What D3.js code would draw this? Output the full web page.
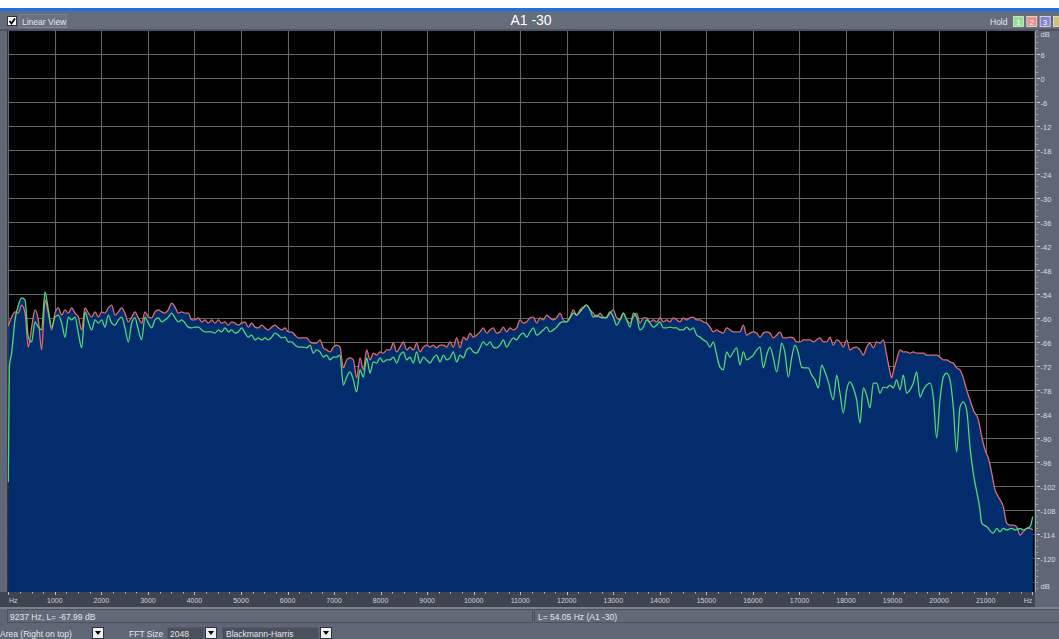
<!DOCTYPE html>
<html>
<head>
<meta charset="utf-8">
<script src="https://cdn.jsdelivr.net/npm/d3@7"></script>
<style>
  html, body { margin: 0; padding: 0; background: #5f6675; overflow: hidden; }
  svg { display: block; font-family: "Liberation Sans", Arial, sans-serif; }
</style>
</head>
<body>
<svg id="chart" width="1059" height="639"></svg>
<script>
// ---- spectrum data (frequency in Hz, level in dB) ----
// shared analysis frequencies for the lower part of the band
const sweepHz = [22,72,144,216,287,359,430,502,574,645,717,789,860,932,1003,1075,1147,1218,1290,1361,1433,1505,1576,1648,1720,1791,1863,1935,2006,2078,2149,2221,2293,2364,2436,2507,2579,2651,2722,2794,2866,2937,3009,3080,3152,3224,3295,3367,3438,3510,3582,3653,3725,3797,3868,3940,4011,4083,4155,4226,4298,4370,4441,4513,4584,4656,4728,4799,4871,4942,5014,5086,5157,5229,5301,5372,5444,5515,5587,5659,5730,5802,5873,5945,6017,6088,6160,6232,
  6339,6411,6483,6554,6626,6698,6769,6841,6912,6984,7056,7127,7199,7271,7342,7414,7485,7557,7629,7700,7772,7844,7915,7987,8058,8130,8202,8273,8345,8416,8488,8560,8631,8703,8775,8846,8918,8989,9061,9133,9204,9276,9348,9419,9491,9562,9634,9706,9777,9849,9920,9992,10064,10135,10207,10279,10350,10422,10493,10565,10637,10708,10780,10852,10923,10995,11066,11138,11210,11281,11353,11424,11496,11568,11639,11711,11783,11854,11926,11997,12069,12141,12212,12284,12356,12427,12499,12570,12642,12714,12785,12857,12928,13000,13072,13143,13215,13287,13358,13430,13501,13573,13645,13716,13788,13860,13931,14003,14074,14146,14218,14289,14361,14432,14504,14576,14647];

const redSweepDb = [-61.2,-59.7,-58.4,-58.7,-56.7,-58.7,-67.2,-62.2,-57.9,-60.4,
  -67.9,-55.4,-58.7,-62.9,-58.7,-57.4,-59.2,-57.9,-58.7,-57.4,
  -58.7,-59.7,-62.9,-57.4,-58.7,-59.7,-58.4,-59.7,-58.4,-58.7,
  -57.4,-56.7,-59.2,-58.4,-57.4,-58.7,-60.9,-59.7,-58.4,-59.9,
  -61.2,-58.4,-59.7,-59.9,-58.4,-57.9,-58.4,-58.7,-57.9,-56.2,
  -57.2,-58.7,-58.4,-58.7,-58.7,-60.4,-60.4,-59.9,-60.9,-60.4,
  -61.2,-60.4,-61.2,-60.4,-61.2,-60.9,-61.7,-60.9,-61.2,-61.7,
  -61.2,-60.9,-62.2,-61.2,-62.2,-62.4,-61.7,-62.4,-62.9,-62.2,
  -61.7,-62.4,-62.9,-62.4,-63.4,-63.4,-64.2,-64.9,
  -64.9,-64.9,-65.9,-66.2,-66.2,-65.4,-67.4,-67.9,-68.4,-67.2,
  -66.7,-67.2,-72.4,-70.4,-69.9,-70.4,-74.9,-69.9,-72.9,-67.9,
  -70.4,-68.7,-69.2,-68.4,-68.7,-67.9,-67.9,-66.2,-68.4,-67.2,
  -65.9,-67.9,-67.2,-67.9,-66.2,-68.4,-67.2,-66.7,-67.2,-66.7,
  -67.4,-66.7,-66.7,-67.2,-65.9,-67.2,-64.9,-67.4,-64.7,-65.4,
  -63.7,-64.7,-64.2,-63.4,-62.4,-63.7,-62.9,-62.4,-63.7,-63.4,
  -62.2,-63.4,-62.4,-62.9,-62.4,-60.4,-61.2,-60.9,-59.9,-59.7,
  -61.2,-59.9,-60.4,-59.2,-59.9,-60.4,-59.9,-58.7,-60.4,-60.9,
  -59.7,-57.9,-59.2,-57.9,-57.2,-56.7,-57.9,-58.7,-59.7,-58.7,
  -59.7,-59.9,-58.7,-57.9,-59.9,-60.4,-58.7,-60.4,-61.2,-59.7,
  -58.7,-61.2,-59.9,-59.9,-60.9,-60.4,-60.9,-59.9,-60.9,-60.4,
  -60.9,-59.9,-60.4,-60.9,-59.9,-60.4,-59.9];

const greenSweepDb = [-72.2,-68.7,-60.4,-56.7,-54.9,-55.4,-64.7,-65.9,-60.9,-62.2,
  -62.9,-53.4,-57.9,-62.2,-59.7,-59.2,-61.2,-64.7,-59.7,-60.4,
  -59.7,-63.7,-67.4,-58.4,-60.9,-62.9,-60.4,-61.2,-60.4,-62.2,
  -59.2,-61.2,-61.7,-60.4,-59.7,-62.4,-65.9,-61.2,-59.9,-62.9,
  -65.4,-59.7,-61.2,-62.4,-60.4,-59.9,-60.9,-60.4,-59.7,-58.7,
  -59.9,-60.9,-60.4,-61.2,-62.2,-62.4,-62.2,-62.2,-62.9,-63.4,
  -63.4,-63.4,-63.7,-62.9,-63.4,-62.4,-63.4,-62.9,-63.7,-63.4,
  -62.4,-63.7,-64.7,-64.2,-65.4,-64.9,-65.4,-64.9,-65.4,-64.7,
  -63.7,-64.2,-64.9,-64.7,-65.9,-65.9,-66.7,-67.2,
  -67.2,-67.4,-66.7,-68.7,-67.9,-68.4,-69.7,-69.2,-70.4,-69.7,
  -69.7,-69.2,-76.7,-74.7,-73.4,-75.4,-78.4,-72.9,-74.7,-69.9,
  -73.7,-70.9,-71.2,-69.9,-70.9,-70.4,-70.4,-69.7,-71.2,-69.2,
  -68.4,-70.4,-69.7,-71.2,-68.4,-71.2,-69.7,-70.4,-71.2,-69.9,
  -69.2,-70.9,-69.2,-70.4,-69.9,-68.4,-70.9,-69.2,-69.9,-67.9,
  -67.4,-68.4,-68.7,-67.4,-65.9,-66.7,-65.9,-67.2,-67.4,-66.7,
  -65.4,-67.2,-65.9,-64.9,-65.4,-64.2,-63.7,-64.7,-63.4,-62.4,
  -64.2,-63.7,-62.9,-62.2,-63.4,-62.9,-62.2,-61.2,-60.9,-60.9,
  -59.9,-58.7,-59.2,-58.4,-57.4,-56.7,-57.9,-59.7,-59.2,-59.7,
  -59.9,-59.7,-58.4,-59.7,-61.7,-60.4,-58.7,-60.4,-62.2,-58.7,
  -59.7,-62.9,-62.2,-60.4,-61.2,-62.2,-61.7,-60.9,-62.4,-62.4,
  -62.2,-62.4,-62.4,-62.9,-62.9,-62.2,-62.9];

// DC bin and upper band, [Hz, dB]
const redEdge = [[0,-62.0],
  [14719,-59.7],[14791,-60.4],[14862,-60.4],[14934,-60.9],[15006,-61.2],[15077,-62.2],[15149,-63.4],[15221,-62.9],[15292,-63.4],[15364,-63.7],
  [15435,-62.4],[15507,-62.9],[15579,-63.4],[15650,-63.4],[15722,-63.4],[15794,-61.7],[15865,-64.2],[15937,-63.7],[16008,-63.4],[16080,-63.7],
  [16152,-64.7],[16223,-63.7],[16295,-63.4],[16366,-63.7],[16438,-64.9],[16510,-64.2],[16581,-63.4],[16653,-64.9],[16725,-64.9],[16796,-64.7],
  [16868,-64.9],[16939,-65.9],[17011,-65.9],[17083,-65.4],[17154,-65.4],[17226,-65.4],[17298,-65.9],[17369,-65.4],[17441,-64.9],[17512,-65.9],
  [17584,-65.9],[17656,-64.7],[17727,-66.7],[17799,-65.4],[17870,-65.9],[17942,-67.2],[18014,-65.4],[18085,-67.9],[18157,-67.4],[18229,-67.2],
  [18300,-67.9],[18372,-69.2],[18443,-67.2],[18515,-66.2],[18587,-67.4],[18658,-65.9],[18730,-66.2],[18801,-65.4],[18873,-69.2],[18945,-73.4],
  [18981,-74.9],[19016,-73.4],[19088,-70.4],[19160,-67.9],[19231,-68.4],[19303,-68.4],[19374,-68.7],[19446,-68.4],[19518,-68.7],[19589,-68.7],
  [19661,-68.7],[19732,-69.2],[19804,-69.2],[19876,-69.2],[19947,-69.2],[20019,-69.7],[20091,-70.4],[20162,-70.4],[20234,-70.9],[20305,-71.2],
  [20377,-72.4],[20449,-72.9],[20520,-74.9],[20592,-77.9],[20664,-80.4],[20735,-82.9],[20843,-85.4],[20916,-89.6],[20987,-92.9],[21058,-95.0],
  [21131,-98.7],[21202,-102.9],[21272,-104.6],[21380,-107.1],[21453,-111.2],[21524,-111.7],[21594,-111.7],[21667,-112.1],[21738,-114.2],[21809,-113.4],
  [21882,-112.5],[21953,-112.5],[22011,-112.9]];

const greenEdge = [[0,-101.0],
  [14719,-62.4],[14791,-64.2],[14862,-64.7],[14934,-65.4],[15006,-65.9],[15077,-67.2],[15149,-65.9],[15221,-69.2],[15292,-72.2],[15364,-72.9],
  [15435,-68.4],[15507,-69.7],[15579,-68.4],[15650,-67.4],[15722,-71.7],[15794,-68.4],[15865,-70.4],[15937,-69.9],[16008,-69.2],[16080,-67.9],
  [16152,-67.2],[16223,-72.4],[16295,-69.2],[16366,-67.2],[16438,-69.9],[16510,-73.4],[16581,-68.7],[16617,-66.2],[16689,-68.7],[16760,-74.7],
  [16832,-69.9],[16904,-66.7],[16975,-68.7],[17047,-72.2],[17118,-72.4],[17190,-72.4],[17262,-74.2],[17333,-75.4],[17405,-77.4],[17477,-71.7],
  [17548,-73.4],[17620,-75.9],[17727,-80.4],[17799,-74.2],[17870,-78.7],[17942,-83.7],[18014,-77.9],[18085,-75.9],[18157,-77.4],[18229,-80.4],
  [18300,-86.2],[18372,-77.4],[18443,-79.2],[18515,-82.4],[18587,-76.2],[18658,-76.2],[18730,-78.7],[18801,-77.2],[18873,-77.4],[18945,-76.7],
  [19016,-77.4],[19088,-75.4],[19160,-77.9],[19231,-74.2],[19303,-78.7],[19374,-77.9],[19446,-76.2],[19518,-73.4],[19589,-79.7],[19661,-77.9],
  [19732,-76.7],[19804,-76.2],[19876,-79.7],[19947,-89.9],[20019,-80.4],[20091,-74.7],[20162,-73.7],[20234,-75.4],[20305,-82.2],[20377,-93.4],
  [20449,-82.2],[20520,-80.9],[20592,-82.9],[20664,-92.2],[20735,-98.7],[20879,-107.9],[20915,-111.2],[21023,-112.1],[21165,-113.7],[21238,-112.5],
  [21308,-113.4],[21379,-112.5],[21452,-112.9],[21559,-112.5],[21630,-112.9],[21738,-112.5],[21809,-112.9],[21882,-112.5],[21953,-112.1],[22011,-109.6]];

// axis ticks and labels
const hzTicks = [1000,2000,3000,4000,5000,6000,7000,8000,9000,10000,11000,12000,13000,14000,15000,16000,17000,18000,19000,20000,21000];
const hzTickLabels = ["1000","2000","3000","4000","5000","6000","7000","8000","9000","10000","11000","12000","13000","14000","15000","16000","17000","18000","19000","20000","21000"];
const dbTicks = [6,0,-6,-12,-18,-24,-30,-36,-42,-48,-54,-60,-66,-72,-78,-84,-90,-96,-102,-108,-114,-120];
const dbTickLabels = ["6","0","-6","-12","-18","-24","-30","-36","-42","-48","-54","-60","-66","-72","-78","-84","-90","-96","-102","-108","-114","-120"];

const titleText = "A1 -30";
const cursorText = "9237 Hz, L= -67.99 dB";
const peakText = "L= 54.05 Hz (A1 -30)";

// ---- build series ----
function series(hz, db, edge) {
  const pts = hz.map((f, i) => [f, db[i]]).concat(edge);
  return pts.sort((a, b) => a[0] - b[0]);
}
const red = series(sweepHz, redSweepDb, redEdge);
const green = series(sweepHz, greenSweepDb, greenEdge);

// ---- layout ----
const W = 1059, H = 639;
const plot = { left: 7.5, right: 1034.5, top: 31, bottom: 592 };
const x = d3.scaleLinear().domain([0, 22050]).range([8.3, 1034.5]);
const y = d3.scaleLinear().domain([0, -120]).range([78.3, 558.3]);

const svg = d3.select("#chart");
const panel = "#5f6675";
const textLight = "#e4e7ec";

// window chrome
svg.append("rect").attr("width", W).attr("height", H).attr("fill", panel);
svg.append("rect").attr("width", W).attr("height", 8).attr("fill", "#ffffff");
svg.append("rect").attr("y", 8).attr("width", W).attr("height", 3).attr("fill", "#1f6fe6");
svg.append("rect").attr("y", 11).attr("width", W).attr("height", 20).attr("fill", "#656c7a");
svg.append("rect").attr("y", 29).attr("width", W).attr("height", 2).attr("fill", "#4d5360");

// header: checkbox + label
const hdr = svg.append("g");
hdr.append("rect").attr("x", 7.5).attr("y", 16.5).attr("width", 9).attr("height", 9)
  .attr("fill", "#ffffff").attr("stroke", "#30343c");
hdr.append("path").attr("d", "M9.5,21 L11.5,23.5 L15,18.5").attr("fill", "none")
  .attr("stroke", "#000").attr("stroke-width", 1.8);
hdr.append("rect").attr("x", 19.5).attr("y", 14.5).attr("width", 47).attr("height", 13)
  .attr("fill", "#6a7180").attr("stroke", "#7d8491");
hdr.append("text").attr("x", 22).attr("y", 24.5).attr("font-size", 8.5)
  .attr("fill", textLight).text("Linear View");
hdr.append("text").attr("x", 531).attr("y", 25).attr("text-anchor", "middle")
  .attr("font-size", 14).attr("fill", "#ffffff").text(titleText);
hdr.append("text").attr("x", 990).attr("y", 24.5).attr("font-size", 8.5)
  .attr("fill", textLight).text("Hold");
// hold buttons; the fourth one runs off the window edge
const holdBtns = [["1", "#93df8f"], ["2", "#f08c8c"], ["3", "#8383cf"], ["", "#cfc37a"]];
holdBtns.forEach((b, i) => {
  const bx = 1013 + i * 13.3;
  hdr.append("rect").attr("x", bx + 0.5).attr("y", 16.5).attr("width", 10).attr("height", 10)
    .attr("fill", b[1]).attr("stroke", "#e8e8e8").attr("stroke-width", 0.8);
  if (b[0]) {
    hdr.append("text").attr("x", bx + 5.5).attr("y", 24.5).attr("text-anchor", "middle")
      .attr("font-size", 8).attr("fill", "#ffffff").text(b[0]);
  }
});

// plot background
svg.append("rect").attr("x", plot.left).attr("y", plot.top)
  .attr("width", plot.right - plot.left).attr("height", plot.bottom - plot.top).attr("fill", "#000");

svg.append("clipPath").attr("id", "plotClip").append("rect")
  .attr("x", plot.left).attr("y", plot.top)
  .attr("width", plot.right - plot.left).attr("height", plot.bottom - plot.top);

const inner = svg.append("g").attr("clip-path", "url(#plotClip)");

// grid
const grid = inner.append("g").attr("stroke", "#666666").attr("stroke-width", 1.1);
[0].concat(hzTicks).forEach(f => {
  const gx = Math.round(x(f)) + 0.5;
  grid.append("line").attr("x1", gx).attr("x2", gx).attr("y1", plot.top).attr("y2", plot.bottom);
});
dbTicks.concat([-126]).forEach(d => {
  const gy = Math.round(y(d)) + 0.5;
  grid.append("line").attr("x1", plot.left).attr("x2", plot.right).attr("y1", gy).attr("y2", gy);
});

// filled spectrum (both channels share the area colour)
const curve = d3.curveMonotoneX;
const area = d3.area().x(d => x(d[0])).y0(plot.bottom).y1(d => y(d[1])).curve(curve);
const line = d3.line().x(d => x(d[0])).y(d => y(d[1])).curve(curve);
const fillCol = "#022c6c";
inner.append("path").datum(red).attr("d", area).attr("fill", fillCol);
inner.append("path").datum(green).attr("d", area).attr("fill", fillCol);
inner.append("path").datum(red).attr("d", line).attr("fill", "none")
  .attr("stroke", "#e06c6c").attr("stroke-width", 1.3).attr("stroke-linejoin", "round");
inner.append("path").datum(green).attr("d", line).attr("fill", "none")
  .attr("stroke", "#55d87a").attr("stroke-width", 1.3).attr("stroke-linejoin", "round");

// right dB axis
const ax = svg.append("g");
ax.append("rect").attr("x", 1035).attr("y", plot.top).attr("width", W - 1035)
  .attr("height", plot.bottom - plot.top).attr("fill", panel);
ax.append("line").attr("x1", 1035.5).attr("x2", 1035.5).attr("y1", plot.top).attr("y2", plot.bottom)
  .attr("stroke", "#9ea4ae").attr("stroke-width", 1);
d3.range(12, -129, -1.5).forEach(d => {
  const ty = Math.round(y(d)) + 0.5;
  ax.append("line").attr("x1", 1036.5).attr("x2", 1038).attr("y1", ty).attr("y2", ty)
    .attr("stroke", "#a9afb9").attr("stroke-width", 1);
});
dbTicks.forEach((d, i) => {
  const ty = Math.round(y(d)) + 0.5;
  ax.append("line").attr("x1", 1037).attr("x2", 1040).attr("y1", ty).attr("y2", ty)
    .attr("stroke", "#d0d4da").attr("stroke-width", 1);
  ax.append("text").attr("x", 1040.5).attr("y", ty + 3).attr("font-size", 7.5)
    .attr("fill", "#d8dce2").text(dbTickLabels[i]);
});
ax.append("text").attr("x", 1040.5).attr("y", 37).attr("font-size", 7.5)
  .attr("fill", "#d8dce2").text("dB");
ax.append("text").attr("x", 1040.5).attr("y", 589).attr("font-size", 7.5)
  .attr("fill", "#d8dce2").text("dB");

// bottom Hz axis
const bx = svg.append("g");
bx.append("rect").attr("x", 0).attr("y", plot.bottom).attr("width", 1035).attr("height", 15)
  .attr("fill", "#3f4451");
bx.append("rect").attr("x", 1035).attr("y", plot.bottom).attr("width", W - 1035).attr("height", 15)
  .attr("fill", panel);
d3.range(0, 22001, 250).forEach(f => {
  const tx = Math.round(x(f)) + 0.5;
  bx.append("line").attr("x1", tx).attr("x2", tx).attr("y1", plot.bottom)
    .attr("y2", plot.bottom + (f % 1000 === 0 ? 3 : 1.5))
    .attr("stroke", "#b9bec7").attr("stroke-width", 1);
});
hzTicks.forEach((f, i) => {
  bx.append("text").attr("x", x(f)).attr("y", 603).attr("text-anchor", "middle")
    .attr("font-size", 7).attr("fill", "#cdd1d8").text(hzTickLabels[i]);
});
bx.append("text").attr("x", 9).attr("y", 603).attr("font-size", 7).attr("fill", "#cdd1d8").text("Hz");
bx.append("text").attr("x", 1028).attr("y", 603).attr("text-anchor", "middle")
  .attr("font-size", 7).attr("fill", "#cdd1d8").text("Hz");

// status bar
const sb = svg.append("g");
sb.append("rect").attr("x", 0).attr("y", 607).attr("width", W).attr("height", 2).attr("fill", "#7b818d");
sb.append("rect").attr("x", 7.5).attr("y", 609.5).attr("width", 525).attr("height", 13)
  .attr("fill", "#626977").attr("stroke", "#4b515d");
sb.append("rect").attr("x", 534.5).attr("y", 609.5).attr("width", 530).attr("height", 13)
  .attr("fill", "#626977").attr("stroke", "#4b515d");
sb.append("text").attr("x", 10).attr("y", 619.5).attr("font-size", 8.5).attr("fill", textLight).text(cursorText);
sb.append("text").attr("x", 538).attr("y", 619.5).attr("font-size", 8.5).attr("fill", textLight).text(peakText);

// control row
const cr = svg.append("g");
function dropButton(x0) {
  cr.append("rect").attr("x", x0 + 0.5).attr("y", 627.5).attr("width", 11).attr("height", 11)
    .attr("fill", "#efefef").attr("stroke", "#2f333b");
  cr.append("path").attr("d", `M${x0 + 3},${631} L${x0 + 9},${631} L${x0 + 6},${635} Z`).attr("fill", "#000");
}
cr.append("text").attr("x", 0).attr("y", 636.5).attr("font-size", 8.5).attr("fill", textLight).text("Area (Right on top)");
dropButton(92);
cr.append("text").attr("x", 129).attr("y", 636.5).attr("font-size", 8.5).attr("fill", textLight).text("FFT Size");
cr.append("rect").attr("x", 167.5).attr("y", 627.5).attr("width", 36).attr("height", 12).attr("fill", "#4a505c");
cr.append("text").attr("x", 170).attr("y", 636.5).attr("font-size", 8.5).attr("fill", textLight).text("2048");
dropButton(205);
cr.append("rect").attr("x", 222.5).attr("y", 627.5).attr("width", 96).attr("height", 12).attr("fill", "#4a505c");
cr.append("text").attr("x", 226).attr("y", 636.5).attr("font-size", 8.5).attr("fill", textLight).text("Blackmann-Harris");
dropButton(320);
</script>
</body>
</html>
